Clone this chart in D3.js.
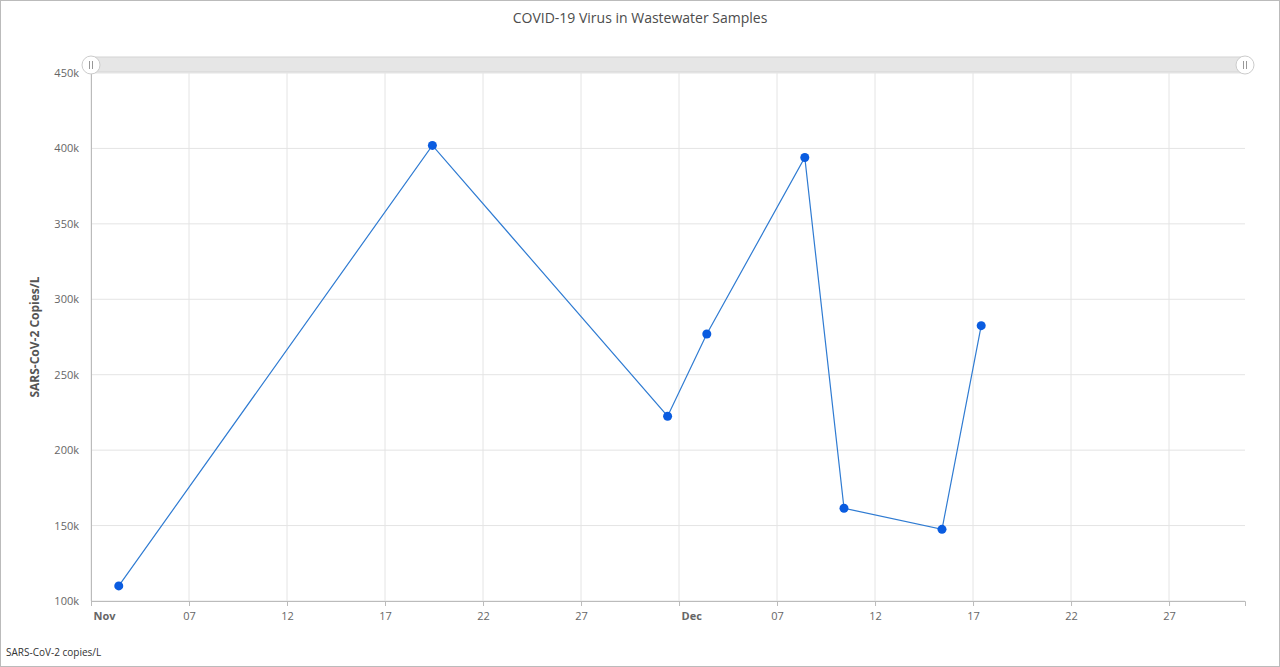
<!DOCTYPE html>
<html><head><meta charset="utf-8">
<script src="https://cdn.jsdelivr.net/npm/d3@7"></script>
<style>body{margin:0;background:#fff;font-family:"Open Sans","Noto Sans",sans-serif}</style>
</head><body><svg id="c" width="1280" height="667"></svg>
<script>
const dates = ["2023-11-02T10:00","2023-11-18T10:00","2023-11-30T10:00","2023-12-02T10:00","2023-12-07T10:00","2023-12-09T10:00","2023-12-14T10:00","2023-12-16T10:00"];
const values = [110000,402000,222500,277000,394000,161500,147500,282500];
const yTicks = [100000,150000,200000,250000,300000,350000,400000,450000];
const xTickDates = ["2023-11-01","2023-11-06","2023-11-11","2023-11-16","2023-11-21","2023-11-26","2023-12-01","2023-12-06","2023-12-11","2023-12-16","2023-12-21","2023-12-26"];
const xTickLabels = ["Nov","07","12","17","22","27","Dec","07","12","17","22","27"];
const title = "COVID-19 Virus in Wastewater Samples";
const yLabel = "SARS-CoV-2 Copies/L";
const footer = "SARS-CoV-2 copies/L";

const svg = d3.select("#c");
const parse = d3.timeParse("%Y-%m-%dT%H:%M");
const pd = d3.timeParse("%Y-%m-%d");
const data = dates.map((d,i)=>({t:parse(d),v:values[i]}));
const L=91,R=1245,T=73,B=601;
const x = d3.scaleTime().domain([new Date(2023,10,1), new Date(2023,11,29,21)]).range([L,R]);
const y = d3.scaleLinear().domain([100000,450000]).range([B,T]);
const xt = xTickDates.map(pd);
const lab = new Map(xt.map((d,i)=>[+d,xTickLabels[i]]));
const isMonth = d=>lab.get(+d)==="Nov"||lab.get(+d)==="Dec";

svg.append("rect").attr("x",0.5).attr("y",0.5).attr("width",1279).attr("height",666).attr("fill","none").attr("stroke","#bbb");
svg.append("text").attr("x",640).attr("y",23).attr("text-anchor","middle").attr("font-size",14).attr("fill","#4c4c4c").text(title);

svg.append("g").selectAll("line").data(xt).join("line").attr("x1",d=>x(d)).attr("x2",d=>x(d)).attr("y1",T).attr("y2",B).attr("stroke","#e4e4e4");
svg.append("g").selectAll("line").data(yTicks).join("line").attr("x1",L).attr("x2",R).attr("y1",d=>y(d)).attr("y2",d=>y(d)).attr("stroke","#e4e4e4");

const ya = svg.append("g").attr("transform",`translate(${L},0)`).call(d3.axisLeft(y).tickValues(yTicks).tickFormat(d=>d/1000+"k").tickSize(0).tickPadding(12));
ya.select(".domain").attr("stroke","#bbb");
ya.selectAll("text").attr("font-size",11).attr("fill","#666").attr("font-family","Open Sans, sans-serif");
const xa = svg.append("g").attr("transform",`translate(0,${B})`).call(d3.axisBottom(x).tickValues(xt).tickSize(5).tickPadding(6)
  .tickFormat(d=>lab.get(+d)));
xa.select(".domain").attr("stroke","#bbb");
xa.selectAll(".tick line").attr("stroke","#bbb");
xa.selectAll("text").attr("font-size",11).attr("fill","#666").attr("font-family","Open Sans, sans-serif")
  .attr("font-weight",d=>isMonth(d)?"bold":"normal").attr("text-anchor",d=>isMonth(d)?"start":"middle")
  .attr("dx",d=>isMonth(d)?2:0);

svg.append("text").attr("transform","translate(39,337) rotate(-90)").attr("text-anchor","middle").attr("font-size",12).attr("font-weight","bold").attr("fill","#555").text(yLabel);

svg.append("rect").attr("x",L).attr("y",57).attr("width",R-L).attr("height",15).attr("fill","#e6e6e6").attr("stroke","#d4d4d4");
for(const cx of [L,R]){
  svg.append("circle").attr("cx",cx).attr("cy",65).attr("r",9).attr("fill","#fff").attr("stroke","#ccc");
  svg.append("line").attr("x1",cx-1.5).attr("x2",cx-1.5).attr("y1",61).attr("y2",69).attr("stroke","#999");
  svg.append("line").attr("x1",cx+1.5).attr("x2",cx+1.5).attr("y1",61).attr("y2",69).attr("stroke","#999");
}

svg.append("path").datum(data).attr("fill","none").attr("stroke","#2f7bd2").attr("stroke-width",1.2)
  .attr("d",d3.line().x(d=>x(d.t)).y(d=>y(d.v)));
svg.append("g").selectAll("circle").data(data).join("circle").attr("cx",d=>x(d.t)).attr("cy",d=>y(d.v)).attr("r",4.5).attr("fill","#0a5ce0");

svg.append("text").attr("x",6).attr("y",656).attr("font-size",10).attr("fill","#333").text(footer);
</script></body></html>
